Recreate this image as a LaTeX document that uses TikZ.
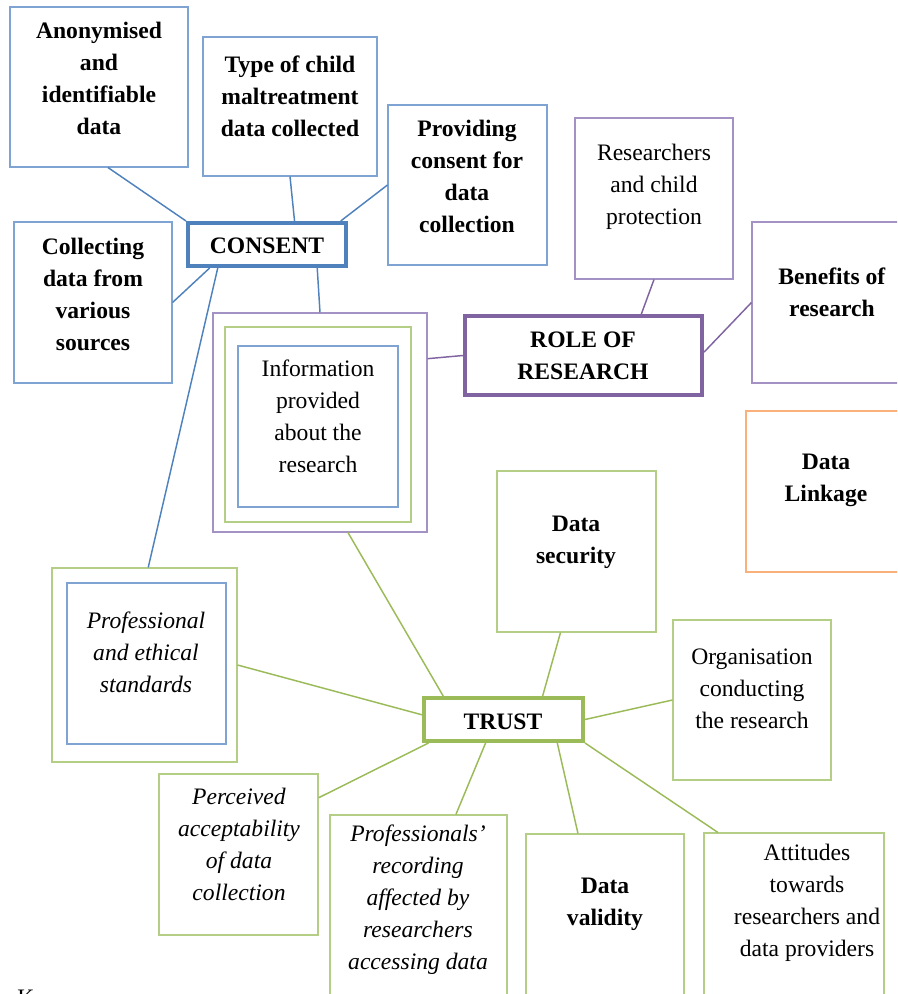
\documentclass[tikz,border=0pt]{standalone}
\usepackage{fontspec}
\setmainfont{Liberation Serif}
\usetikzlibrary{fit,calc}
\definecolor{cblue}{HTML}{4F81BD}
\definecolor{cpurple}{HTML}{8064A2}
\definecolor{cgreen}{HTML}{9BBB59}
\definecolor{corange}{HTML}{F79646}
\definecolor{lblue}{HTML}{7FA3D2}
\definecolor{lpurple}{HTML}{A592C4}
\definecolor{lgreen}{HTML}{B5CE86}
\definecolor{lorange}{HTML}{F9B07A}
\begin{document}
\begin{tikzpicture}[x=0.75pt,y=-0.75pt,
  frame/.style={draw=#1, line width=0.8pt, inner sep=0pt},
  hub/.style={draw=#1, line width=3pt, inner sep=0pt},
  lab/.style={align=center, inner sep=0pt, font=\fontsize{17.7}{24}\selectfont},
  conn/.style={draw=#1, line width=1.1pt}]
\useasboundingbox (0,0) rectangle (897,994);
\clip (0,0) rectangle (897,994);

% CONSENT cluster
\node[hub=cblue, fit={(188,223)(346,266)}] (consent) {};
\node[lab] (consent-t) at (267,246) {\textbf{CONSENT}};
\node[frame=lblue, fit={(10,7)(188,167)}] (anon) {};
\node[lab] (anon-t) at (99,78) {\textbf{Anonymised}\\\textbf{and}\\\textbf{identifiable}\\\textbf{data}};
\node[frame=lblue, fit={(203,37)(377,176)}] (type) {};
\node[lab] (type-t) at (290,96) {\textbf{Type of child}\\\textbf{maltreatment}\\\textbf{data collected}};
\node[frame=lblue, fit={(388,105)(547,265)}] (prov) {};
\node[lab] (prov-t) at (467,176) {\textbf{Providing}\\\textbf{consent for}\\\textbf{data}\\\textbf{collection}};
\node[frame=lblue, fit={(14,222)(172,383)}] (coll) {};
\node[lab] (coll-t) at (93,294) {\textbf{Collecting}\\\textbf{data from}\\\textbf{various}\\\textbf{sources}};

% ROLE OF RESEARCH cluster
\node[hub=cpurple, fit={(465,316)(702,395)}] (role) {};
\node[lab] (role-t) at (583,356) {\textbf{ROLE OF}\\\textbf{RESEARCH}};
\node[frame=lpurple, fit={(575,118)(733,279)}] (resch) {};
\node[lab] (resch-t) at (654,187) {Researchers\\and child\\protection};
\node[frame=lpurple, fit={(752,222)(910,383)}] (bene) {};
\node[lab] (bene-t) at (832,292) {\textbf{Benefits of}\\\textbf{research}};

% Information (nested)
\node[frame=lpurple, fit={(213,313)(427,532)}] (info) {};
\node[frame=lgreen, fit={(225,327)(411,522)}] (info-g) {};
\node[frame=lblue, fit={(238,346)(398,507)}] (info-b) {};
\node[lab] (info-t) at (318,416) {Information\\provided\\about the\\research};

% Data Linkage
\node[frame=lorange, fit={(746,411)(910,572)}] (link) {};
\node[lab] (link-t) at (826,480) {\textbf{Data}\\\textbf{Linkage}};

% TRUST cluster
\node[hub=cgreen, fit={(424,698)(583,741)}] (trust) {};
\node[lab] (trust-t) at (503,722) {\textbf{TRUST}};
\node[frame=lgreen, fit={(497,471)(656,632)}] (secu) {};
\node[lab] (secu-t) at (576,542) {\textbf{Data}\\\textbf{security}};
\node[frame=lgreen, fit={(673,620)(831,780)}] (orga) {};
\node[lab] (orga-t) at (752,689) {Organisation\\conducting\\the research};
\node[frame=lgreen, fit={(52,568)(237,762)}] (prof) {};
\node[frame=lblue, fit={(67,583)(226,744)}] (prof-b) {};
\node[lab] (prof-t) at (146,652) {\textit{Professional}\\\textit{and ethical}\\\textit{standards}};
\node[frame=lgreen, fit={(159,774)(318,935)}] (perc) {};
\node[lab] (perc-t) at (239,844) {\textit{Perceived}\\\textit{acceptability}\\\textit{of data}\\\textit{collection}};
\node[frame=lgreen, fit={(330,815)(507,1010)}] (profs) {};
\node[lab] (profs-t) at (418,900) {\textit{Professionals’}\\\textit{recording}\\\textit{affected by}\\\textit{researchers}\\\textit{accessing data}};
\node[frame=lgreen, fit={(526,834)(684,1010)}] (valid) {};
\node[lab] (valid-t) at (605,904) {\textbf{Data}\\\textbf{validity}};
\node[frame=lgreen, fit={(704,833)(884,1010)}] (attit) {};
\node[lab] (attit-t) at (807,903) {Attitudes\\towards\\researchers and\\data providers};

\node[lab, anchor=base west] (kk) at (17,1005) {K};

% connectors CONSENT
\draw[conn=cblue] ($(anon.south west)!0.55!(anon.south east)$) -- (consent.north west);
\draw[conn=cblue] (type.south) -- ($(consent.north west)!0.67!(consent.north east)$);
\draw[conn=cblue] (prov.west) -- ($(consent.north west)!0.955!(consent.north east)$);
\draw[conn=cblue] (coll.east) -- ($(consent.south west)!0.146!(consent.south east)$);
\draw[conn=cblue] ($(prof.north west)!0.52!(prof.north east)$) -- ($(consent.south west)!0.196!(consent.south east)$);
\draw[conn=cblue] (info.north) -- ($(consent.south west)!0.81!(consent.south east)$);
% connectors ROLE
\draw[conn=cpurple] (resch.south) -- ($(role.north west)!0.74!(role.north east)$);
\draw[conn=cpurple] (bene.west) -- ($(role.north east)!0.46!(role.south east)$);
\draw[conn=cpurple] ($(info.north east)!0.21!(info.south east)$) -- (role.west);
% connectors TRUST
\draw[conn=cgreen] ($(info.south west)!0.63!(info.south east)$) -- ($(trust.north west)!0.13!(trust.north east)$);
\draw[conn=cgreen] ($(secu.south west)!0.4!(secu.south east)$) -- ($(trust.north west)!0.74!(trust.north east)$);
\draw[conn=cgreen] (orga.west) -- (trust.east);
\draw[conn=cgreen] (prof.east) -- ($(trust.north west)!0.4!(trust.south west)$);
\draw[conn=cgreen] ($(perc.north east)!0.15!(perc.south east)$) -- ($(trust.south west)!0.04!(trust.south east)$);
\draw[conn=cgreen] ($(profs.north west)!0.71!(profs.north east)$) -- ($(trust.south west)!0.39!(trust.south east)$);
\draw[conn=cgreen] ($(valid.north west)!0.33!(valid.north east)$) -- ($(trust.south west)!0.83!(trust.south east)$);
\draw[conn=cgreen] ($(attit.north west)!0.08!(attit.north east)$) -- (trust.south east);
\end{tikzpicture}
\end{document}
